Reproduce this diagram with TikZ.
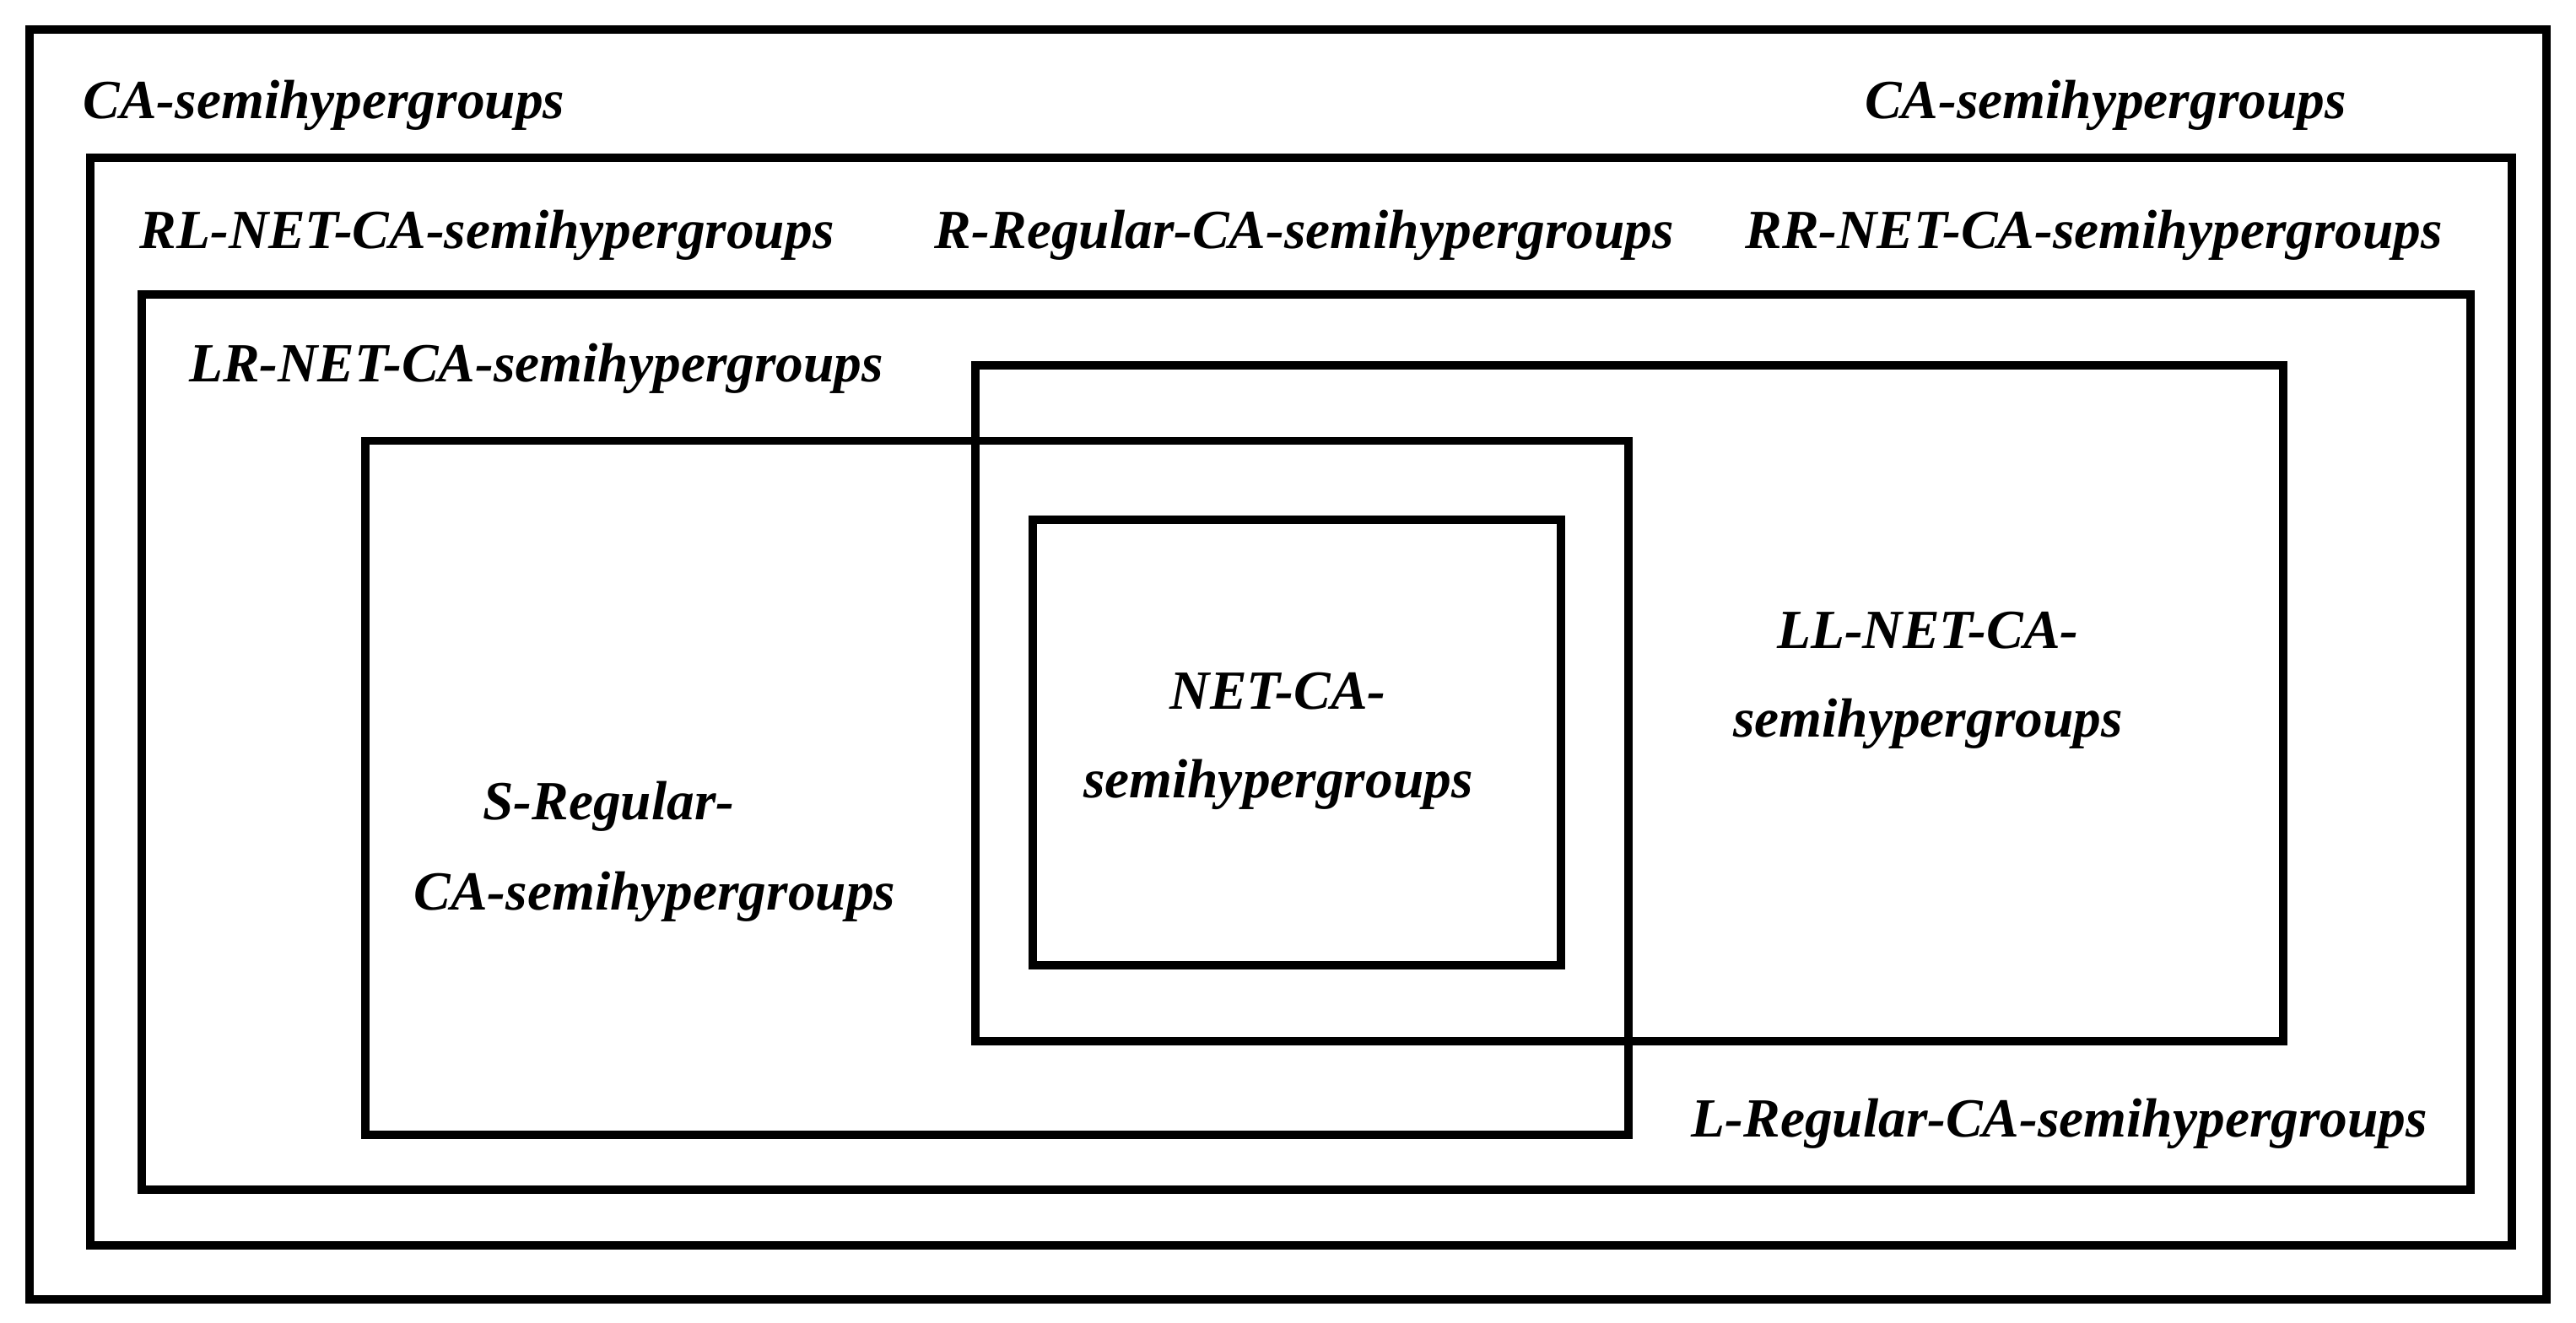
\documentclass[tikz,border=0pt]{standalone}
\usepackage{fontspec}
\setmainfont{Liberation Serif}
\begin{document}
\begin{tikzpicture}[x=0.02cm,y=-0.02cm,
  box/.style={draw=black,line width=2.9pt},
  lab/.style={font=\fontsize{19.1}{21}\selectfont\bfseries\itshape,inner sep=0pt}]
\useasboundingbox (0,0) rectangle (1566,804);
\draw[box] (18,18) rectangle (1548,790);
\draw[box] (55,96) rectangle (1527,757);
\draw[box] (86,179) rectangle (1502,723);
\draw[box] (593,222) rectangle (1388,633);
\draw[box] (222,268) rectangle (990,690);
\draw[box] (628,316) rectangle (949,587);
\node[lab] (t1) at (197,64) {CA-semihypergroups};
\node[lab] (t2) at (1280,64) {CA-semihypergroups};
\node[lab] (t3) at (296,143) {RL-NET-CA-semihypergroups};
\node[lab] (t4) at (793,143) {R-Regular-CA-semihypergroups};
\node[lab] (t5) at (1273,143) {RR-NET-CA-semihypergroups};
\node[lab] (t6) at (326,224) {LR-NET-CA-semihypergroups};
\node[lab] (t7) at (1172,383) {LL-NET-CA-};
\node[lab] (t8) at (1172,440) {semihypergroups};
\node[lab] (t9) at (777,420) {NET-CA-};
\node[lab] (t10) at (777,477) {semihypergroups};
\node[lab] (t11) at (370,490) {S-Regular-};
\node[lab] (t12) at (398,545) {CA-semihypergroups};
\node[lab] (t13) at (1252,683) {L-Regular-CA-semihypergroups};
\end{tikzpicture}
\end{document}
